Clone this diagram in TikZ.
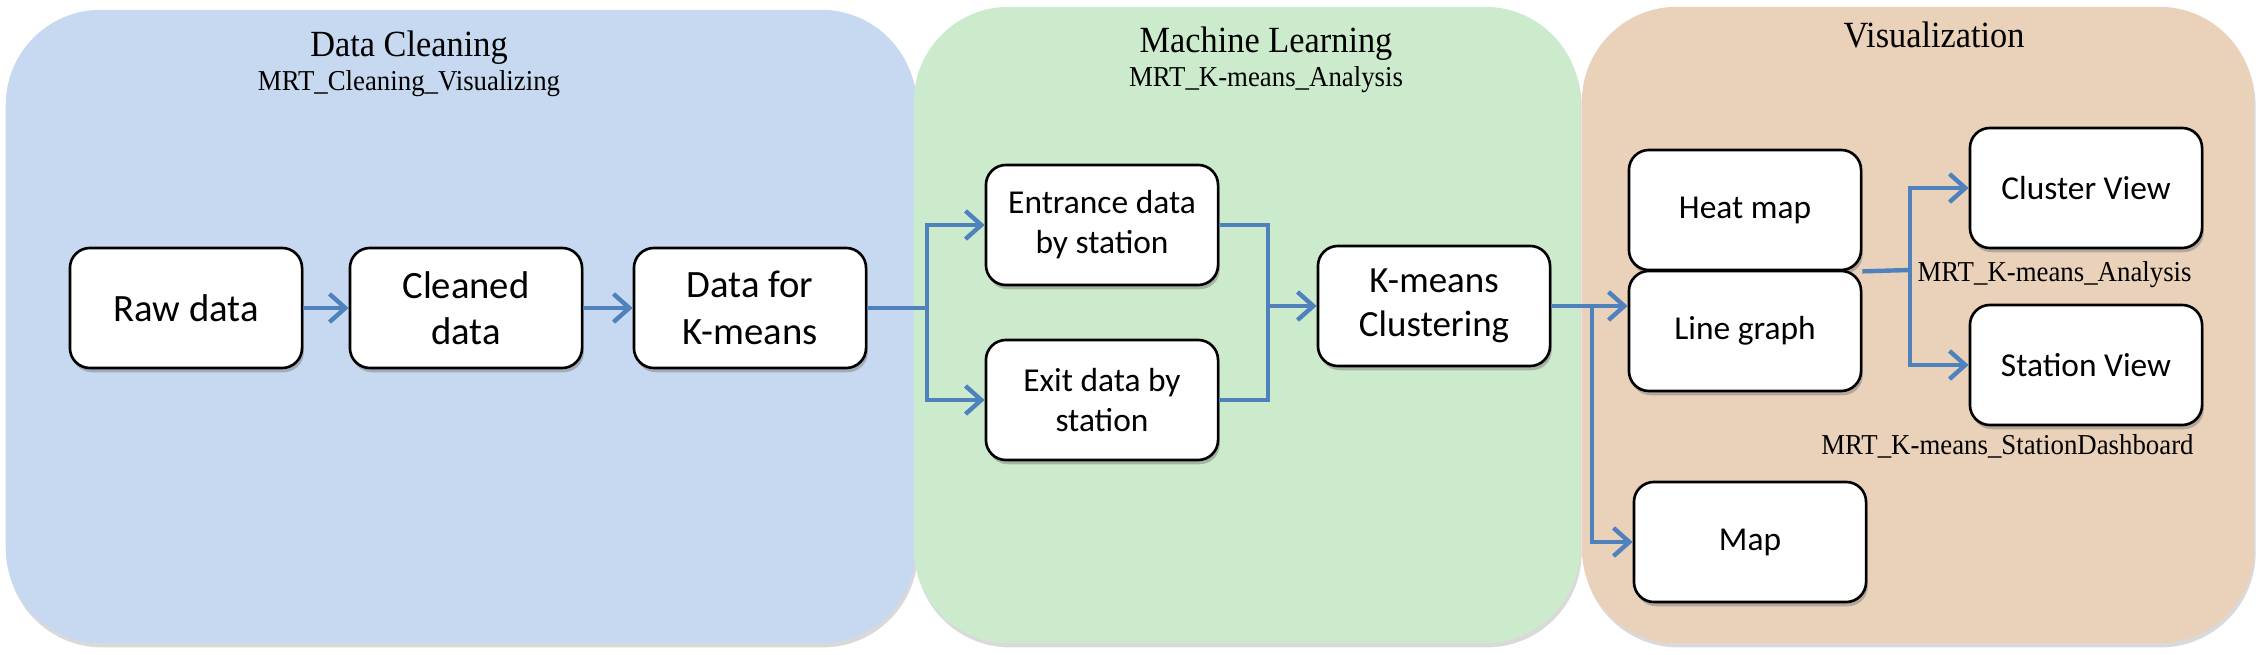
\documentclass[tikz,border=0pt]{standalone}
\usepackage{fontspec}
\setmainfont{Carlito}
\newfontfamily\headfont[FakeStretch=0.93]{Liberation Serif}
\usetikzlibrary{arrows.meta,shadows}
\definecolor{cleanblue}{RGB}{198,217,241}
\definecolor{learngreen}{RGB}{204,235,204}
\definecolor{visorange}{RGB}{234,209,186}
\definecolor{flowblue}{RGB}{79,129,189}
\tikzset{
  panel/.style={rounded corners=0.95cm, inner sep=0pt,
    drop shadow={shadow xshift=0.4pt,shadow yshift=-1.2pt,opacity=0.3}},
  stepbox/.style={draw=black, line width=0.75pt, fill=white, rounded corners=0.2cm,
    minimum width=2.32cm, minimum height=1.2cm, inner sep=0pt, align=center,
    drop shadow={shadow xshift=0.5pt,shadow yshift=-1.2pt,opacity=0.5}},
  bigtext/.style={font=\fontsize{11}{13.2}\selectfont},
  smalltext/.style={font=\fontsize{9.5}{11.4}\selectfont},
  link/.style={draw=flowblue, line width=1.25pt},
  flow/.style={link, -{Straight Barb[length=4.5pt,width=8pt]}},
  headline/.style={font=\headfont\fontsize{10.5}{12}\selectfont, anchor=base},
  subline/.style={font=\headfont\fontsize{8.2}{10}\selectfont, anchor=base},
}
\begin{document}
\begin{tikzpicture}[x=0.01cm,y=-0.01cm]
\useasboundingbox (0,0) rectangle (2261,655);
% stage panels
\node[panel, fill=cleanblue, minimum width=9.1cm, minimum height=6.33cm] (cleanpanel) at (461,326.5) {};
\node[panel, fill=learngreen, minimum width=6.66cm, minimum height=6.36cm] (learnpanel) at (1247,325) {};
\node[panel, fill=visorange, minimum width=6.72cm, minimum height=6.36cm] (vispanel) at (1918,325) {};
\node[headline] (cleantitle) at (409,57) {Data Cleaning};
\node[subline] (cleansub) at (409,91) {MRT\_Cleaning\_Visualizing};
\node[headline] (learntitle) at (1266,53) {Machine Learning};
\node[subline] (learnsub) at (1266,87) {MRT\_K-means\_Analysis};
\node[headline] (vistitle) at (1934,48) {Visualization};
% steps
\node[stepbox, bigtext] (raw) at (186,308) {Raw data};
\node[stepbox, bigtext] (cleaned) at (466,308) {Cleaned\\data};
\node[stepbox, bigtext] (kmdata) at (750,308) {Data for\\K-means};
\node[stepbox, smalltext] (entrance) at (1102,225) {Entrance data\\by station};
\node[stepbox, smalltext] (exit) at (1102,400) {Exit data by\\station};
\node[stepbox, font=\fontsize{10.5}{12.6}\selectfont] (kmeans) at (1434,306) {K-means\\Clustering};
\node[stepbox, smalltext] (heatmap) at (1745,210) {Heat map};
\node[stepbox, smalltext] (linegraph) at (1745,331) {Line graph};
\node[stepbox, smalltext] (map) at (1750,542) {Map};
\node[stepbox, smalltext] (cluster) at (2086,188) {Cluster View};
\node[stepbox, smalltext] (station) at (2086,365) {Station View};
\node[subline, anchor=base east] (clusterlbl) at (2204,282) {MRT\_K-means\_Analysis};
\node[subline, anchor=base east] (stationlbl) at (2206,455) {MRT\_K-means\_StationDashboard};
% connectors
\coordinate (split) at (927,308);
\coordinate (merge) at (1268,306);
\coordinate (branch) at (1592,306);
\coordinate (fork) at (1910,270);
\draw[flow] (raw) -- (cleaned);
\draw[flow] (cleaned) -- (kmdata);
\draw[link] (kmdata) -- (split);
\draw[flow] (split) |- (entrance);
\draw[flow] (split) |- (exit);
\draw[link] (entrance) -| (merge);
\draw[link] (exit) -| (merge);
\draw[flow] (merge) -- (kmeans);
\draw[flow] (kmeans.east) -- (kmeans.east -| linegraph.west);
\draw[flow] (branch) |- (map);
\draw[link] (heatmap.south east) -- (fork);
\draw[flow] (fork) |- (cluster);
\draw[flow] (fork) |- (station);
\end{tikzpicture}
\end{document}
